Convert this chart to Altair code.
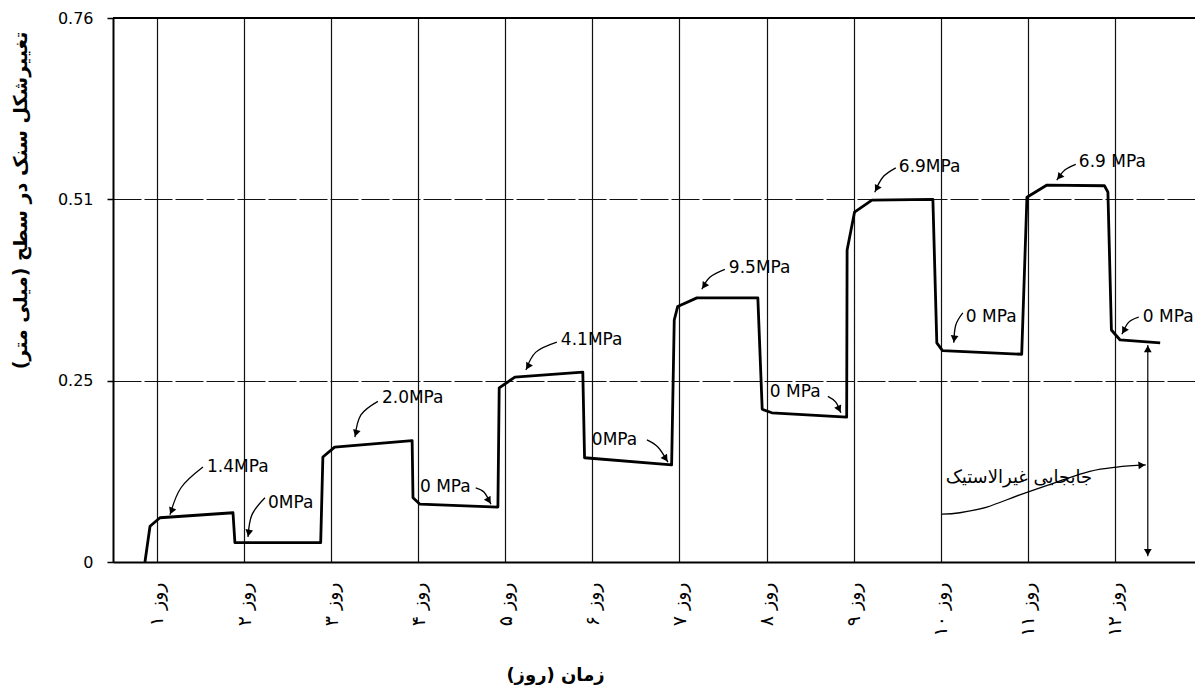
import json
import math
import altair as alt
import pandas as pd

# ---------------- data ----------------
curve_day = [0.862, 0.92, 1.034, 1.873, 1.895, 2.88, 2.905, 3.04, 3.93, 3.94, 4.02, 4.915,
             4.93, 5.11, 5.89, 5.91, 6.91, 6.94, 6.98, 7.2, 7.9, 7.95, 8.06, 8.92, 8.925,
             9.01, 9.21, 9.91, 9.955, 10.02, 10.93, 10.99, 11.22, 11.88, 11.92, 11.96,
             12.06, 12.52]
curve_mm = [0.0, 0.050, 0.062, 0.069, 0.027, 0.027, 0.147, 0.161, 0.170, 0.090, 0.081, 0.077,
            0.244, 0.259, 0.266, 0.146, 0.136, 0.339, 0.358, 0.370, 0.370, 0.214, 0.209, 0.203,
            0.437, 0.490, 0.507, 0.508, 0.307, 0.296, 0.291, 0.511, 0.528, 0.527, 0.518,
            0.325, 0.311, 0.307]

ann_text = ["1.4MPa", "0MPa", "2.0MPa", "0 MPa", "4.1MPa", "0MPa", "9.5MPa", "0 MPa",
            "6.9MPa", "0 MPa", "6.9 MPa", "0 MPa"]
ann_day = [1.574, 2.274, 3.583, 4.02, 5.638, 5.994, 7.567, 8.038, 9.519, 10.288, 11.586, 12.32]
ann_mm = [0.133, 0.083, 0.230, 0.105, 0.311, 0.171, 0.412, 0.238, 0.553, 0.343, 0.560, 0.343]

arr_start_day = [1.528, 2.24, 3.537, 4.66, 5.592, 6.626, 7.521, 8.704, 9.484, 10.254, 11.551, 12.274]
arr_start_mm = [0.133, 0.090, 0.225, 0.104, 0.308, 0.171, 0.410, 0.232, 0.552, 0.349, 0.557, 0.343]
arr_mid_day = [1.276, 2.09, 3.342, 4.754, 5.351, 6.752, 7.349, 8.795, 9.335, 10.173, 11.425, 12.16]
arr_mid_mm = [0.104, 0.066, 0.206, 0.098, 0.294, 0.161, 0.399, 0.224, 0.539, 0.332, 0.549, 0.336]
arr_end_day = [1.149, 2.045, 3.273, 4.835, 5.237, 6.867, 7.257, 8.853, 9.243, 10.15, 11.333, 12.08]
arr_end_mm = [0.066, 0.035, 0.175, 0.081, 0.269, 0.140, 0.382, 0.209, 0.518, 0.307, 0.535, 0.319]

inel_text = "جابجایی غیرالاستیک"
inel_day = 10.898
inel_mm = 0.118
s_day = [10.013, 10.22, 10.53, 10.908, 11.333, 11.712, 12.022, 12.355]
s_mm = [0.067, 0.069, 0.077, 0.094, 0.112, 0.127, 0.133, 0.136]
vert_day = 12.378
vert_lo = 0.008
vert_hi = 0.304

persian_days = ["۱", "۲", "۳", "۴", "۵", "۶", "۷", "۸", "۹", "۱۰", "۱۱", "۱۲"]
y_ticks = [0, 0.254, 0.508, 0.762]
x_title = "زمان (روز)\u200f"
y_title = "تغییرشکل سنک در سطح (میلی متر)\u200f"

# ---------------- scales / helpers ----------------
X0, X1 = 0.495, 12.92
W, H = 1082, 544
YMAX = 0.762
PXD = W / (X1 - X0)
PXM = H / YMAX


def head(xt, yt, xf, yf, back=4.0):
    dx = (xt - xf) * PXD
    dy = -(yt - yf) * PXM
    L = math.hypot(dx, dy)
    ux, uy = dx / L, dy / L
    ang = math.degrees(math.atan2(ux, -uy)) % 360
    return {"x": xt - ux * back / PXD, "y": yt + uy * back / PXM, "ang": ang}


font = "DejaVu Sans"
xs = alt.Scale(domain=[X0, X1], nice=False, zero=False)
ys = alt.Scale(domain=[0, YMAX], nice=False, zero=False)

day_labels = ["روز " + d for d in persian_days]
label_expr = json.dumps(day_labels, ensure_ascii=False) + "[round(datum.value) - 1]"

x_axis = alt.Axis(values=list(range(1, 13)), labelExpr=label_expr, labelAngle=270,
                  labelAlign="right", labelBaseline="middle", labelFont=font,
                  labelFontSize=19, labelPadding=20, labelColor="black",
                  labelOverlap=False, labelFlush=False, ticks=False,
                  domainColor="black", domainWidth=2, grid=True, gridColor="#111111",
                  gridWidth=1.2, title=x_title, titleFont=font, titleFontSize=18,
                  titleFontWeight="bold", titleColor="black", titleX=442, titleY=113,
                  titleAlign="center", titleBaseline="middle")
y_axis = alt.Axis(values=y_ticks,
                  labelExpr="datum.value == 0 ? '0' : format(datum.value, '.2f')",
                  labelFont=font, labelFontSize=16, labelPadding=14, labelColor="black",
                  tickSize=6, tickColor="black", tickWidth=1.5, domainColor="black",
                  domainWidth=2, grid=True, gridColor="#111111", gridDash=[28, 3],
                  gridWidth=1.2, title=y_title, titleFont=font, titleFontSize=19,
                  titleFontWeight="bold", titleColor="black", titleAngle=270,
                  titleX=-93, titleY=182, titleAlign="center", titleBaseline="middle")


def X(f):
    return alt.X(f, type="quantitative", scale=xs, axis=x_axis)


def Y(f):
    return alt.Y(f, type="quantitative", scale=ys, axis=y_axis)


# ---------------- tables ----------------
curve_df = pd.DataFrame({"d": curve_day, "v": curve_mm, "i": range(len(curve_day))})

lead_rows = []
heads = []
for k in range(len(ann_text)):
    pts = [(arr_start_day[k], arr_start_mm[k]), (arr_mid_day[k], arr_mid_mm[k]),
           (arr_end_day[k], arr_end_mm[k])]
    for j, (a, b) in enumerate(pts):
        lead_rows.append({"d": a, "v": b, "g": f"a{k}", "o": j})
    heads.append(head(arr_end_day[k], arr_end_mm[k], arr_mid_day[k], arr_mid_mm[k]))
for j, (a, b) in enumerate(zip(s_day, s_mm)):
    lead_rows.append({"d": a, "v": b, "g": "s", "o": j})
heads.append(head(s_day[-1], s_mm[-1], s_day[-2], s_mm[-2]))
heads.append(head(vert_day, vert_hi, vert_day, vert_hi - 0.05))
heads.append(head(vert_day, vert_lo, vert_day, vert_lo + 0.05))
lead_df = pd.DataFrame(lead_rows)
head_df = pd.DataFrame(heads)
ann_df = pd.DataFrame({"d": ann_day, "v": ann_mm, "t": ann_text})
inel_df = pd.DataFrame({"d": [inel_day], "v": [inel_mm], "t": [inel_text]})
vert_df = pd.DataFrame({"d": [vert_day], "v": [vert_lo], "v2": [vert_hi]})

# ---------------- layers ----------------
top_rule = alt.Chart(pd.DataFrame({"v": [YMAX]})).mark_rule(color="black", strokeWidth=2).encode(
    y=Y("v"))

curve = alt.Chart(curve_df).mark_line(color="black", strokeWidth=2.8, strokeJoin="round").encode(
    x=X("d"), y=Y("v"), order="i:Q")

leaders = alt.Chart(lead_df).mark_line(color="black", strokeWidth=1.3,
                                       interpolate="cardinal").encode(
    x=X("d"), y=Y("v"), detail="g:N", order="o:Q")

arrowheads = alt.Chart(head_df).mark_point(shape="triangle-up", filled=True, size=60,
                                           color="black", opacity=1).encode(
    x=X("x"), y=Y("y"), angle=alt.Angle("ang:Q", scale=None))

labels = alt.Chart(ann_df).mark_text(align="left", baseline="middle", font=font,
                                     fontSize=17, color="black").encode(
    x=X("d"), y=Y("v"), text="t:N")

inel = alt.Chart(inel_df).mark_text(align="center", baseline="middle", font=font,
                                    fontSize=18, color="black").encode(
    x=X("d"), y=Y("v"), text="t:N")

vert = alt.Chart(vert_df).mark_rule(color="black", strokeWidth=1.2).encode(
    x=X("d"), y=Y("v"), y2="v2:Q")

chart = alt.layer(top_rule, curve, leaders, vert, arrowheads, labels, inel).properties(
    width=W, height=H,
    autosize=alt.AutoSizeParams(type="none"),
    padding={"left": 105, "top": 10, "right": 0, "bottom": 125},
    background="white",
).configure_view(strokeWidth=0)

chart.save("out.html", embed_options={"renderer": "svg", "actions": False})
